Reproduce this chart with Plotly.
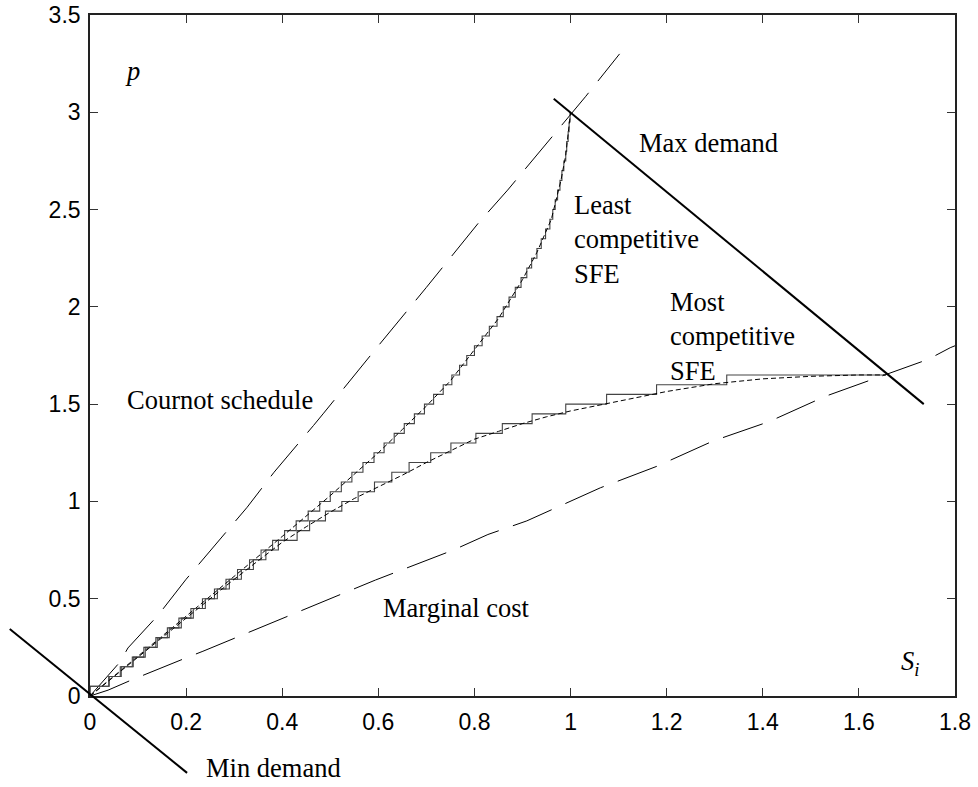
import plotly.graph_objects as go

# ---------------- data ----------------
x_ticks = [0, 0.2, 0.4, 0.6, 0.8, 1.0, 1.2, 1.4, 1.6, 1.8]
x_tick_text = ["0", "0.2", "0.4", "0.6", "0.8", "1", "1.2", "1.4", "1.6", "1.8"]
y_ticks = [0, 0.5, 1.0, 1.5, 2.0, 2.5, 3.0, 3.5]
y_tick_text = ["0", "0.5", "1", "1.5", "2", "2.5", "3", "3.5"]

# Cournot schedule (long dashes)
cournot_q = [0, 0.0625, 0.079, 0.142, 0.2, 0.327, 0.383, 0.404, 0.465, 0.485, 0.54, 0.6, 0.7,
             0.808, 0.869, 0.95, 1.031, 1.102]
cournot_p = [0, 0.175, 0.247, 0.416, 0.60, 0.97, 1.15, 1.21, 1.39, 1.45, 1.62, 1.80, 2.10,
             2.43, 2.60, 2.84, 3.08, 3.30]

# Marginal cost (long dashes)
mc_q = [0, 0.0375, 0.086, 0.121, 0.204, 0.235, 0.323, 0.356, 0.41, 0.517, 0.594, 0.756, 0.828,
        0.909, 0.99, 1.062, 1.179, 1.296, 1.413, 1.53, 1.62, 1.744, 1.79, 1.8]
mc_p = [0, 0.03, 0.082, 0.118, 0.20, 0.23, 0.32, 0.355, 0.41, 0.52, 0.596, 0.75, 0.83,
        0.90, 0.99, 1.07, 1.18, 1.31, 1.41, 1.54, 1.62, 1.73, 1.79, 1.80]

# Least competitive SFE: smooth curve
least_q = [0, 0.1, 0.2, 0.3, 0.4, 0.5, 0.55, 0.6, 0.65, 0.7, 0.75, 0.8, 0.85, 0.9, 0.93, 0.96,
           0.98, 0.99, 1.0]
least_p = [0, 0.205, 0.41, 0.615, 0.82, 1.03, 1.14, 1.25, 1.37, 1.49, 1.62, 1.78, 1.94, 2.14,
           2.28, 2.45, 2.65, 2.78, 3.0]

# Least competitive SFE: stepped offer (quantity where each price step starts)
least_step_q = [0, 0, 0.039, 0.063, 0.088, 0.112, 0.137, 0.161, 0.185, 0.210, 0.234, 0.259,
                0.283, 0.307, 0.332, 0.356, 0.380, 0.405, 0.429, 0.454, 0.478, 0.500, 0.523,
                0.545, 0.568, 0.591, 0.612, 0.633, 0.654, 0.675, 0.696, 0.715, 0.735, 0.753,
                0.769, 0.784, 0.800, 0.816, 0.831, 0.847, 0.860, 0.872, 0.885, 0.897, 0.909,
                0.919, 0.930, 0.939, 0.948, 0.957, 0.963, 0.968, 0.973, 0.978, 0.982, 0.986,
                0.990, 0.992, 0.995, 0.997, 0.999, 1.0]
least_step_p = [0, 0.05, 0.10, 0.15, 0.20, 0.25, 0.30, 0.35, 0.40, 0.45, 0.50, 0.55, 0.60,
                0.65, 0.70, 0.75, 0.80, 0.85, 0.90, 0.95, 1.00, 1.05, 1.10, 1.15, 1.20, 1.25,
                1.30, 1.35, 1.40, 1.45, 1.50, 1.55, 1.60, 1.65, 1.70, 1.75, 1.80, 1.85, 1.90,
                1.95, 2.00, 2.05, 2.10, 2.15, 2.20, 2.25, 2.30, 2.35, 2.40, 2.45, 2.50, 2.55,
                2.60, 2.65, 2.70, 2.75, 2.80, 2.85, 2.90, 2.95, 3.00, 3.00]

# Most competitive SFE: smooth curve
most_q = [0, 0.1, 0.2, 0.3, 0.4, 0.45, 0.5, 0.55, 0.6, 0.65, 0.7, 0.75, 0.8, 0.85, 0.9, 0.95,
          1.0, 1.1, 1.2, 1.3, 1.4, 1.5, 1.6, 1.656]
most_p = [0, 0.2, 0.4, 0.6, 0.79, 0.87, 0.945, 1.015, 1.075, 1.135, 1.20, 1.26, 1.32, 1.36,
          1.40, 1.435, 1.465, 1.515, 1.565, 1.605, 1.63, 1.643, 1.65, 1.65]

# Most competitive SFE: stepped offer
most_step_q = [0, 0, 0.040, 0.065, 0.090, 0.115, 0.140, 0.165, 0.190, 0.215, 0.240, 0.265,
               0.290, 0.315, 0.340, 0.366, 0.392, 0.431, 0.457, 0.490, 0.524, 0.558, 0.592,
               0.628, 0.664, 0.709, 0.751, 0.803, 0.858, 0.920, 0.990, 1.075, 1.179, 1.325,
               1.656]
most_step_p = [0, 0.05, 0.10, 0.15, 0.20, 0.25, 0.30, 0.35, 0.40, 0.45, 0.50, 0.55, 0.60,
               0.65, 0.70, 0.75, 0.80, 0.85, 0.90, 0.95, 1.00, 1.05, 1.10, 1.15, 1.20, 1.25,
               1.30, 1.35, 1.40, 1.45, 1.50, 1.55, 1.60, 1.65, 1.65]

# Demand lines
max_demand_q = [0.965, 1.735]
max_demand_p = [3.07, 1.50]
min_demand_q = [-0.167, 0.202]
min_demand_p = [0.344, -0.395]

# ---------------- layout geometry ----------------
W, H = 978, 787
x_range = [0, 1.8]
y_range = [0, 3.5]
x_dom = [90 / W, 955 / W]
y_dom = [91 / H, 772 / H]

# full-page axes that share the same data scale (for the min demand line, which leaves the box)
x_span = (x_range[1] - x_range[0]) / (x_dom[1] - x_dom[0])
x2_lo = x_range[0] - x_dom[0] * x_span
y_span = (y_range[1] - y_range[0]) / (y_dom[1] - y_dom[0])
y2_lo = y_range[0] - y_dom[0] * y_span

fig = go.Figure()

long_dash = "42px,15px"
short_dash = "5px,3px"

fig.add_trace(go.Scatter(x=cournot_q, y=cournot_p, mode="lines",
                         line=dict(color="black", width=1, dash=long_dash)))
fig.add_trace(go.Scatter(x=mc_q, y=mc_p, mode="lines",
                         line=dict(color="black", width=1, dash=long_dash)))
fig.add_trace(go.Scatter(x=least_step_q, y=least_step_p, mode="lines",
                         line=dict(color="#444444", width=1.1, shape="hv")))
fig.add_trace(go.Scatter(x=least_q, y=least_p, mode="lines",
                         line=dict(color="black", width=1, dash=short_dash)))
fig.add_trace(go.Scatter(x=most_step_q, y=most_step_p, mode="lines",
                         line=dict(color="#444444", width=1.1, shape="hv")))
fig.add_trace(go.Scatter(x=most_q, y=most_p, mode="lines",
                         line=dict(color="black", width=1, dash=short_dash)))
fig.add_trace(go.Scatter(x=max_demand_q, y=max_demand_p, mode="lines",
                         line=dict(color="black", width=2)))
fig.add_trace(go.Scatter(x=min_demand_q, y=min_demand_p, mode="lines",
                         line=dict(color="black", width=2), xaxis="x2", yaxis="y2"))

serif = "Liberation Serif, Times New Roman, serif"
sans = "Liberation Sans, Arial, sans-serif"
tfont = dict(family=serif, size=26.5, color="black")

ann = [
    dict(x=0.0875, y=3.21, text="<i>p</i>", xanchor="center", yanchor="middle"),
    dict(x=1.2875, y=2.84, text="Max demand", xanchor="center", yanchor="middle"),
    dict(x=1.004, y=2.345, text="Least<br>competitive<br>SFE", xanchor="left",
         yanchor="middle", align="left"),
    dict(x=1.202, y=1.85, text="Most<br>competitive<br>SFE", xanchor="left",
         yanchor="middle", align="left"),
    dict(x=0.2708, y=1.52, text="Cournot schedule", xanchor="center", yanchor="middle"),
    dict(x=0.7625, y=0.452, text="Marginal cost", xanchor="center", yanchor="middle"),
    dict(x=1.706, y=0.17, text="<i>S<sub>i</sub></i>", xanchor="center", yanchor="middle"),
    dict(x=0.238, y=-0.37, text="Min demand", xanchor="left", yanchor="middle",
         xref="x2", yref="y2"),
]
for a in ann:
    a.setdefault("xref", "x")
    a.setdefault("yref", "y")
    a["showarrow"] = False
    a["font"] = tfont

axis_common = dict(showgrid=False, zeroline=False, showline=True, linecolor="#222222",
                   linewidth=1.6, mirror="allticks", ticks="inside", ticklen=8,
                   tickwidth=1, tickcolor="#333333", automargin=False,
                   tickfont=dict(family=sans, size=23, color="black"))

fig.update_layout(
    template="none",
    width=W, height=H,
    margin=dict(l=0, r=0, t=0, b=0, pad=0),
    paper_bgcolor="white", plot_bgcolor="rgba(0,0,0,0)",
    showlegend=False,
    xaxis=dict(domain=x_dom, range=x_range, tickvals=x_ticks, ticktext=x_tick_text,
               anchor="y", ticklabelstandoff=5, **axis_common),
    yaxis=dict(domain=y_dom, range=y_range, tickvals=y_ticks, ticktext=y_tick_text,
               anchor="x", ticklabelstandoff=3, **axis_common),
    xaxis2=dict(domain=[0, 1], range=[x2_lo, x2_lo + x_span], visible=False, anchor="y2",
                showgrid=False, zeroline=False),
    yaxis2=dict(domain=[0, 1], range=[y2_lo, y2_lo + y_span], visible=False, anchor="x2",
                showgrid=False, zeroline=False),
    annotations=ann,
    hovermode=False,
)

fig.write_html("out.html", config={"displayModeBar": False},
               post_script="document.body.style.margin='0';")
